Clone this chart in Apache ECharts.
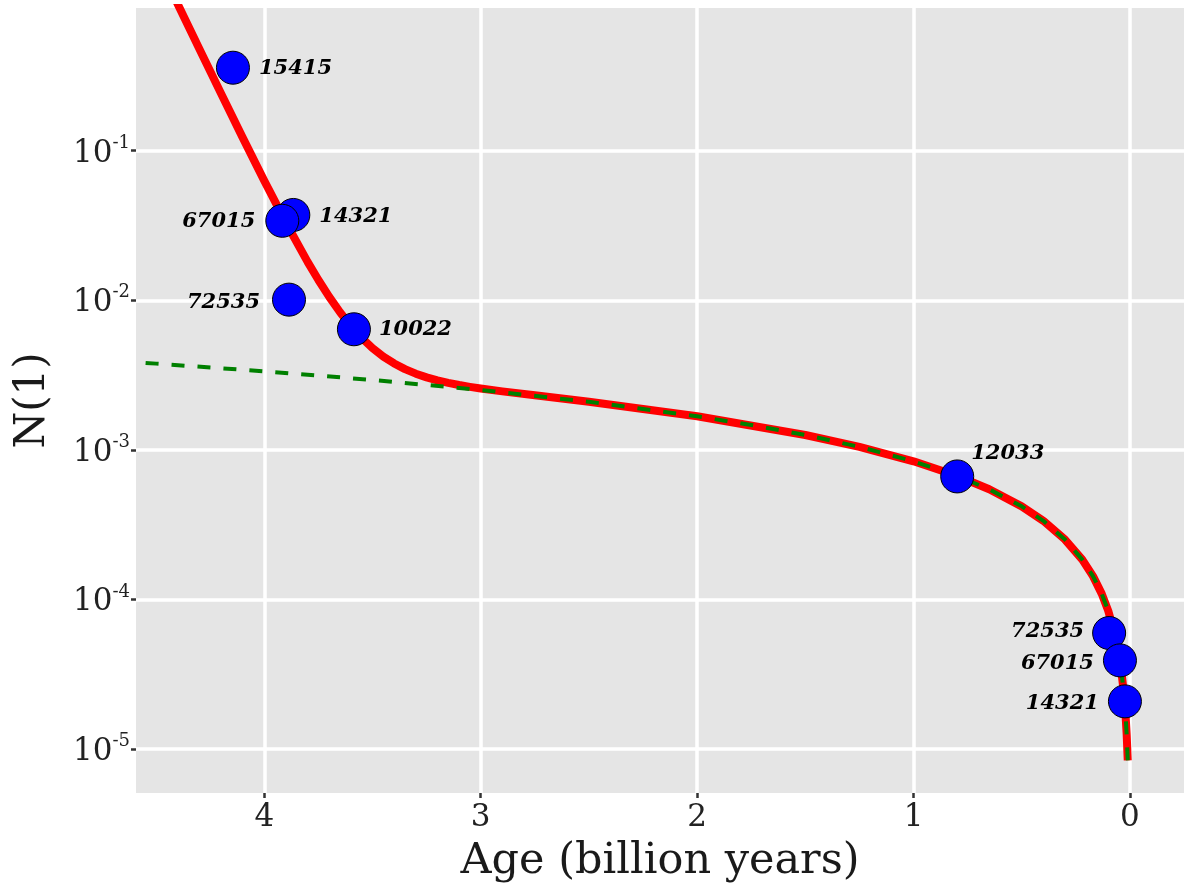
<!DOCTYPE html>
<html><head><meta charset="utf-8">
<script src="https://cdn.jsdelivr.net/npm/echarts@6/dist/echarts.min.js"></script>
<style>html,body{margin:0;padding:0;background:#fff}#c{width:1185px;height:888px}</style>
</head><body><div id="c"></div>
<script>
// Crater sample data (age in billion years, N(1) crater density)
const craterNames = ['15415','14321','67015','72535','10022','12033','72535','67015','14321'];
const craterAge = [4.145, 3.866, 3.917, 3.886, 3.586, 0.798, 0.096, 0.046, 0.023];
const craterN1 = [0.359, 0.0372, 0.034, 0.0101, 0.0064, 6.64e-4, 5.96e-5, 3.91e-5, 2.08e-5];

// Chronology curve (red)
const curveAge = [0.01,0.015,0.02,0.03,0.04,0.05,0.07,0.1,0.13,0.17,0.22,0.3,0.4,0.5,0.65,0.8,1.0,1.25,1.5,2.0,2.5,2.75,2.9,3.0,3.05,3.1,3.15,3.2,3.25,3.3,3.35,3.4,3.45,3.5,3.55,3.6,3.65,3.7,3.75,3.8,3.9,4.0,4.1,4.2,4.3,4.4,4.45];
const curveN1 = [8.38e-6,1.257e-5,1.676e-5,2.514e-5,3.352e-5,4.19e-5,5.866e-5,8.38e-5,1.089e-4,1.425e-4,1.844e-4,2.514e-4,3.352e-4,4.19e-4,5.447e-4,6.704e-4,8.38e-4,1.0475e-3,1.257e-3,1.676e-3,2.097e-3,2.315e-3,2.459e-3,2.572e-3,2.638e-3,2.714e-3,2.804e-3,2.914e-3,3.052e-3,3.23e-3,3.465e-3,3.779e-3,4.206e-3,4.793e-3,5.605e-3,6.735e-3,8.318e-3,1.0538e-2,1.3663e-2,1.806e-2,3.301e-2,6.283e-2,0.1224,0.2414,0.4792,0.9549,1.349];

// Linear part (green dashed)
const linearAge = [0.01,0.015,0.02,0.03,0.04,0.05,0.07,0.1,0.13,0.17,0.22,0.3,0.4,0.5,0.65,0.8,1.0,1.25,1.5,1.75,2.0,2.5,3.0,3.5,4.0,4.5,4.7];
const linearN1 = [8.38e-6,1.257e-5,1.676e-5,2.514e-5,3.352e-5,4.19e-5,5.866e-5,8.38e-5,1.089e-4,1.425e-4,1.844e-4,2.514e-4,3.352e-4,4.19e-4,5.447e-4,6.704e-4,8.38e-4,1.0475e-3,1.257e-3,1.4665e-3,1.676e-3,2.095e-3,2.514e-3,2.933e-3,3.352e-3,3.771e-3,3.9386e-3];

// Axis ticks
const xTicks = [0, 1, 2, 3, 4];
const yTickExponents = [-5, -4, -3, -2, -1];

// Label placement (layout, not data)
const labelLayout = [
  {position: 'right', distance: 9, offset: [0, 1]},
  {position: 'right', distance: 9, offset: [0, 2]},
  {position: 'left', distance: 10, offset: [0, 1]},
  {position: 'left', distance: 12, offset: [0, 3]},
  {position: 'right', distance: 8, offset: [0, 0]},
  {position: 'right', distance: -3, offset: [0, -23]},
  {position: 'left', distance: 8, offset: [0, -1]},
  {position: 'left', distance: 9, offset: [0, 3]},
  {position: 'left', distance: 9, offset: [0, 2]}
];

const SERIF = "'DejaVu Serif', serif";
const chart = echarts.init(document.getElementById('c'), null, {renderer: 'canvas'});

const pts = craterAge.map((t, i) => ({
  value: [t, Math.log10(craterN1[i])],
  name: craterNames[i],
  label: Object.assign({show: true, formatter: craterNames[i]}, labelLayout[i])
}));

chart.setOption({
  animation: false,
  backgroundColor: '#ffffff',
  grid: {left: 136, right: 1, top: 8, bottom: 94, show: true, backgroundColor: '#E5E5E5', borderWidth: 0},
  xAxis: {
    type: 'value', inverse: true, min: -0.25, max: 4.593,
    name: 'Age (billion years)', nameLocation: 'middle', nameGap: 47,
    nameTextStyle: {fontFamily: SERIF, fontSize: 43, color: '#1a1a1a'},
    axisLine: {show: false, onZero: false},
    axisTick: {show: true, length: 5, customValues: xTicks, lineStyle: {color: '#333', width: 2.5}},
    axisLabel: {customValues: xTicks, margin: 9, fontFamily: SERIF, fontSize: 31, color: '#222'},
    splitLine: {show: true, lineStyle: {color: '#ffffff', width: 3.5}}
  },
  yAxis: {
    type: 'value', min: -5.2945, max: -0.0457,
    name: 'N(1)', nameLocation: 'middle', nameGap: 82, nameRotate: 90,
    nameTextStyle: {fontFamily: SERIF, fontSize: 42, color: '#1a1a1a'},
    axisLine: {show: false, onZero: false},
    axisTick: {show: true, length: 5, customValues: yTickExponents, lineStyle: {color: '#333', width: 2.5}},
    axisLabel: {
      customValues: yTickExponents, margin: 6, padding: [6, 0, 0, 0],
      formatter: v => '{b|10}{s|' + v + '}',
      rich: {
        b: {fontFamily: SERIF, fontSize: 31, color: '#222', lineHeight: 39},
        s: {fontFamily: SERIF, fontSize: 18, color: '#222', verticalAlign: 'top', lineHeight: 18}
      }
    },
    splitLine: {show: true, lineStyle: {color: '#ffffff', width: 3.5}}
  },
  series: [
    {
      type: 'line', showSymbol: false, z: 2, clip: true,
      data: curveAge.map((t, i) => [t, Math.log10(curveN1[i])]),
      lineStyle: {color: '#FF0000', width: 8, join: 'round'}
    },
    {
      type: 'line', showSymbol: false, z: 3, clip: true,
      data: linearAge.map((t, i) => [t, Math.log10(linearN1[i])]),
      lineStyle: {color: '#008000', width: 4, type: [13, 13]}
    },
    {
      type: 'scatter', z: 4, symbol: 'circle', symbolSize: 33,
      itemStyle: {color: '#0000FF', borderColor: '#000000', borderWidth: 1, opacity: 1},
      label: {fontFamily: SERIF, fontSize: 21, fontWeight: 'bold', fontStyle: 'italic', color: '#000'},
      data: pts
    }
  ]
});
</script></body></html>
